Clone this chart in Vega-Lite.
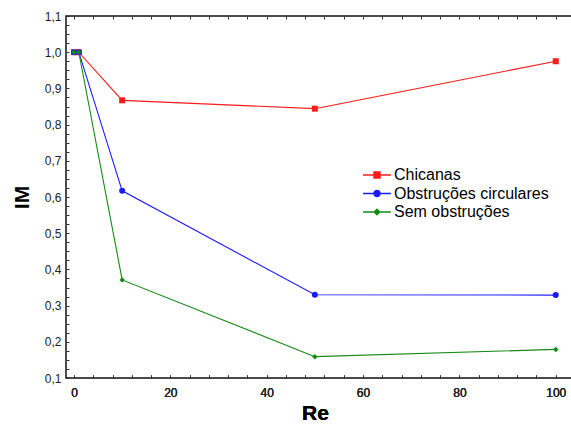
{
  "$schema": "https://vega.github.io/schema/vega-lite/v6.json",
  "width": 509,
  "height": 362,
  "autosize": "none",
  "padding": {"left": 66, "top": 16, "right": 0, "bottom": 48},
  "background": "white",
  "config": {
    "font": "Liberation Sans",
    "view": {"stroke": "#111", "strokeWidth": 1.5},
    "axis": {"grid": false, "domain": false, "labelOverlap": false, "labelFont": "Liberation Sans", "labelFontSize": 12, "labelColor": "#222", "tickColor": "#333", "tickWidth": 1, "titleFont": "Liberation Sans", "titleFontSize": 21, "titleFontWeight": "bold", "titleColor": "#000"}
  },
  "data": {
    "values": [
      {"Re": 0, "IM": 1.0, "serie": "Chicanas"},
      {"Re": 1, "IM": 1.0, "serie": "Chicanas"},
      {"Re": 10, "IM": 0.867, "serie": "Chicanas"},
      {"Re": 50, "IM": 0.844, "serie": "Chicanas"},
      {"Re": 100, "IM": 0.975, "serie": "Chicanas"},
      {"Re": 0, "IM": 1.0, "serie": "Obstruções circulares"},
      {"Re": 1, "IM": 1.0, "serie": "Obstruções circulares"},
      {"Re": 10, "IM": 0.617, "serie": "Obstruções circulares"},
      {"Re": 50, "IM": 0.330, "serie": "Obstruções circulares"},
      {"Re": 100, "IM": 0.329, "serie": "Obstruções circulares"},
      {"Re": 0, "IM": 1.0, "serie": "Sem obstruções"},
      {"Re": 1, "IM": 1.0, "serie": "Sem obstruções"},
      {"Re": 10, "IM": 0.371, "serie": "Sem obstruções"},
      {"Re": 50, "IM": 0.159, "serie": "Sem obstruções"},
      {"Re": 100, "IM": 0.179, "serie": "Sem obstruções"}
    ]
  },
  "encoding": {
    "x": {
      "field": "Re", "type": "quantitative",
      "scale": {"domain": [-1.66, 104], "nice": false, "zero": false},
      "axis": {
        "orient": "bottom", "title": "Re", "titleX": 249, "titlePadding": 4,
        "values": [0,4,8,12,16,20,24,28,32,36,40,44,48,52,56,60,64,68,72,76,80,84,88,92,96,100],
        "labelExpr": "datum.value % 20 == 0 ? datum.label : ''",
        "tickSize": -3, "labelPadding": 12
      }
    },
    "y": {
      "field": "IM", "type": "quantitative",
      "scale": {"domain": [0.1, 1.1], "nice": false, "zero": false},
      "axis": {
        "title": "IM", "titlePadding": 12,
        "values": [0.1,0.125,0.15,0.175,0.2,0.225,0.25,0.275,0.3,0.325,0.35,0.375,0.4,0.425,0.45,0.475,0.5,0.525,0.55,0.575,0.6,0.625,0.65,0.675,0.7,0.725,0.75,0.775,0.8,0.825,0.85,0.875,0.9,0.925,0.95,0.975,1.0,1.025,1.05,1.075,1.1],
        "labelExpr": "round(datum.value*40) % 4 == 0 ? replace(format(datum.value, '.1f'), '.', ',') : ''",
        "tickSize": -3, "labelPadding": 8
      }
    },
    "color": {
      "field": "serie", "type": "nominal",
      "scale": {"domain": ["Chicanas", "Obstruções circulares", "Sem obstruções"], "range": ["#ff1a1a", "#1a1aff", "#158a15"]},
      "legend": {
        "title": null, "orient": "none", "legendX": 301, "legendY": 149,
        "labelFont": "Liberation Sans", "labelFontSize": 16, "labelColor": "#000",
        "symbolSize": 324, "symbolStrokeWidth": 1.5, "labelOffset": 7, "rowPadding": 0.5,
        "encode": {
          "symbols": {
            "update": {
              "shape": {"signal": "datum.value == 'Chicanas' ? 'M-1.55,0H1.55M-0.33,-0.33H0.33V0.33H-0.33Z' : datum.value == 'Sem obstruções' ? 'M-1.55,0H1.55M0,-0.3L0.3,0L0,0.3L-0.3,0Z' : 'M-1.55,0H1.55M0.33,0A0.33,0.33 0 1,1 -0.33,0A0.33,0.33 0 1,1 0.33,0Z'"},
              "fill": {"scale": "color", "field": "value"},
              "fillOpacity": {"value": 1}
            }
          }
        }
      }
    }
  },
  "layer": [
    {
      "mark": {"type": "line", "strokeWidth": 1.1, "clip": true}
    },
    {
      "transform": [{"filter": "datum.serie == 'Chicanas'"}],
      "mark": {"type": "point", "shape": "square", "filled": true, "opacity": 1, "size": 36, "clip": true}
    },
    {
      "transform": [{"filter": "datum.serie == 'Obstruções circulares'"}],
      "mark": {"type": "point", "shape": "circle", "filled": true, "opacity": 1, "size": 36, "clip": true}
    },
    {
      "transform": [{"filter": "datum.serie == 'Sem obstruções'"}],
      "mark": {"type": "point", "shape": "diamond", "filled": true, "opacity": 1, "size": 30, "clip": true},
      "encoding": {
        "x": {
          "field": "Re", "type": "quantitative",
          "axis": {
            "orient": "top", "title": null, "labels": false,
            "values": [0,4,8,12,16,20,24,28,32,36,40,44,48,52,56,60,64,68,72,76,80,84,88,92,96,100],
            "tickSize": -3
          }
        }
      }
    }
  ]
}
